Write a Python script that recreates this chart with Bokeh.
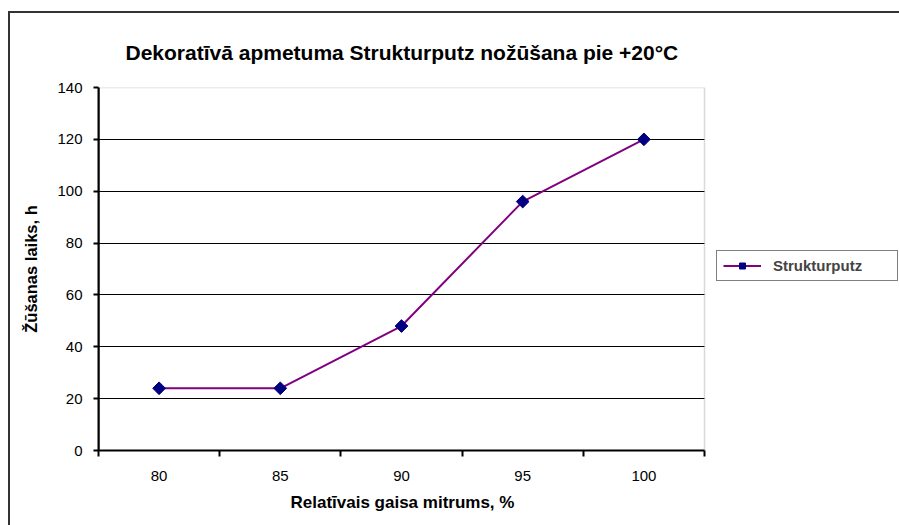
import numpy as np
from bokeh.plotting import figure
from bokeh.models import Legend, LegendItem, FixedTicker, Range1d, BoxAnnotation, Title, Span
from bokeh.embed import file_html
from bokeh.resources import INLINE

categories = [80, 85, 90, 95, 100]
tick_labels = ["80", "85", "90", "95", "100"]
values = [24, 24, 48, 96, 120]
series_name = "Strukturputz"
title_text = "Dekoratīvā apmetuma Strukturputz nožūšana pie +20°C"
x_label = "Relatīvais gaisa mitrums, %"
y_label = "Žūšanas laiks, h"
y_ticks = [0, 20, 40, 60, 80, 100, 120, 140]

FONT = "Liberation Sans"

# plot area spans the categories with half a slot on each side;
# the frame is extended to the right so the legend can sit beside it
x_lo = categories[0] - 2.5
x_hi = categories[-1] + 2.5
PLOT_W = 606
FRAME_W = 801
x_end = x_lo + (x_hi - x_lo) * FRAME_W / PLOT_W

p = figure(width=899, height=525, output_backend="svg", toolbar_location=None,
           x_range=Range1d(x_lo, x_end), y_range=Range1d(0, 140),
           min_border_left=98, min_border_right=0, min_border_top=87,
           min_border_bottom=75, background_fill_color="white",
           border_fill_color=None,
           styles={"background-color": "white",
                   "box-shadow": "inset 8px 11px 0 0 white, inset 10px 13px 0 0 #333333"})

p.title.text = title_text
p.title.align = "left"
p.title.offset = 27
p.title.text_font = FONT
p.title.text_font_size = "21px"
p.title.text_font_style = "bold"
p.title.text_color = "black"
p.title.standoff = 48

p.outline_line_color = None

# plot-area border (gray, visible on top and right only)
p.add_layout(BoxAnnotation(left=x_lo - 10, right=x_hi, bottom=-20, top=140,
                           fill_color=None, line_color="#808080",
                           line_width=1.5, level="underlay"))

# grids
p.xgrid.grid_line_color = None
p.ygrid.grid_line_color = "black"
p.ygrid.grid_line_width = 1.2
p.ygrid.ticker = FixedTicker(ticks=y_ticks)
p.ygrid.cross_bounds = (x_lo, x_hi)

# y axis
p.yaxis.ticker = FixedTicker(ticks=y_ticks)
p.yaxis.axis_label = y_label
p.yaxis.axis_label_text_font = FONT
p.yaxis.axis_label_text_font_size = "16.5px"
p.yaxis.axis_label_text_font_style = "bold"
p.yaxis.axis_label_text_color = "black"
p.yaxis.axis_label_standoff = 14
p.yaxis.major_label_text_font = FONT
p.yaxis.major_label_text_font_size = "15px"
p.yaxis.major_label_text_color = "black"
p.yaxis.major_label_standoff = 11
p.yaxis.axis_line_width = 2
p.yaxis.axis_line_color = "black"
p.yaxis.major_tick_out = 5
p.yaxis.major_tick_in = 0
p.yaxis.major_tick_line_width = 2
p.yaxis.major_tick_line_color = "black"
p.yaxis.minor_tick_line_color = None

# darker left edge of the plot area
p.add_layout(Span(location=x_lo, dimension="height", line_color="black",
                  line_width=2, level="guide"))

# x axis
minor = [c - 2.5 for c in categories] + [categories[-1] + 2.5]
p.xaxis.bounds = (x_lo, x_hi)
p.xaxis.ticker = FixedTicker(ticks=categories, minor_ticks=minor)
p.xaxis.major_label_overrides = {c: t for c, t in zip(categories, tick_labels)}
p.xaxis.major_tick_line_color = None
p.xaxis.minor_tick_line_color = "black"
p.xaxis.minor_tick_line_width = 2
p.xaxis.minor_tick_out = 6
p.xaxis.minor_tick_in = 0
p.xaxis.major_tick_out = 6
p.xaxis.axis_line_width = 2
p.xaxis.axis_line_color = "black"
p.xaxis.major_label_text_font = FONT
p.xaxis.major_label_text_font_size = "15px"
p.xaxis.major_label_text_color = "black"
p.xaxis.major_label_standoff = 14

# x-axis title, centred under the plot area (not under the wider frame)
xt = Title(text=x_label, align="left", offset=192, text_font=FONT,
           text_font_size="17px", text_font_style="bold", text_color="black",
           standoff=14)
p.add_layout(xt, "below")

r_line = p.line(categories, values, line_color="#800080", line_width=2)
r_pts = p.scatter(categories, values, marker="square", angle=np.pi / 4, size=9,
                  fill_color="#000080", line_color="#000080")

legend = Legend(items=[LegendItem(label=series_name, renderers=[r_line, r_pts])],
                location=(618, 169), orientation="vertical",
                border_line_color="black", border_line_width=1.5,
                background_fill_color="white",
                padding=6, margin=0, glyph_width=38, glyph_height=15,
                label_height=15, label_width=118, label_standoff=12,
                label_text_font=FONT, label_text_font_size="15px",
                label_text_font_style="bold", spacing=0)
p.add_layout(legend, "center")

open("out.html", "w").write(file_html(p, INLINE))
